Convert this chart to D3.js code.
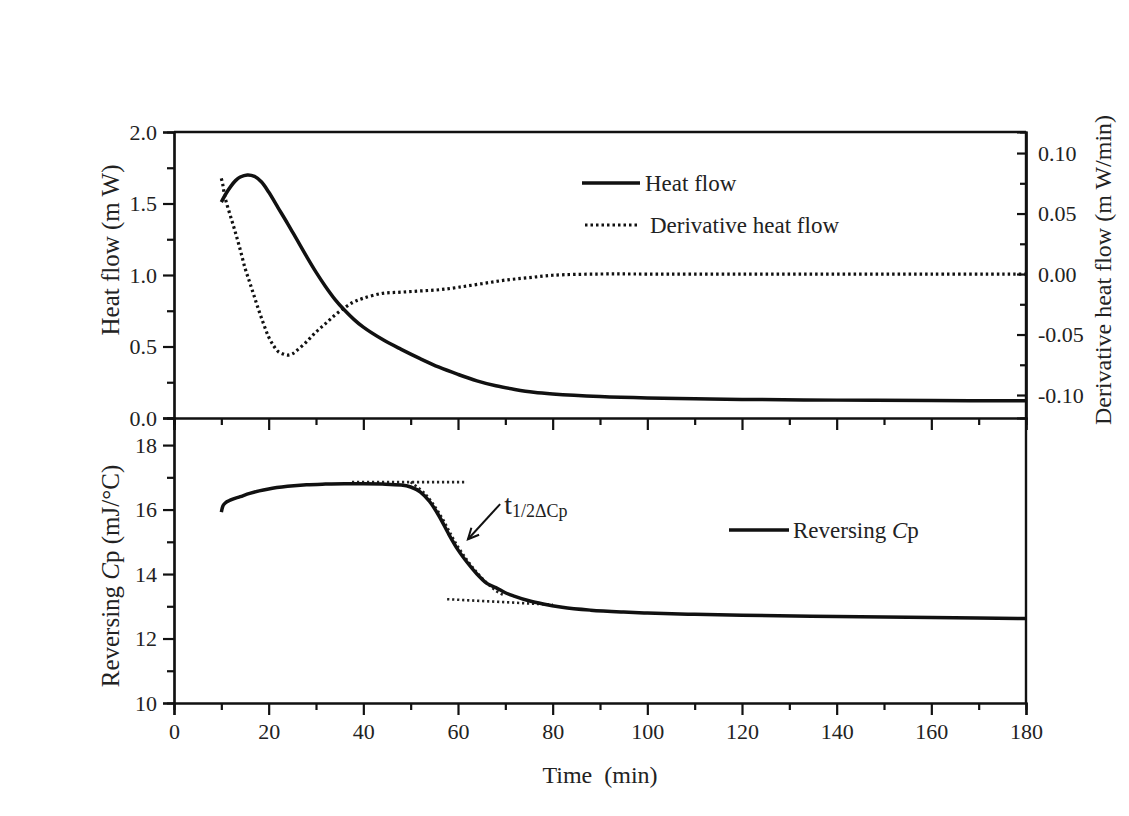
<!DOCTYPE html>
<html lang="en">
<head>
  <meta charset="UTF-8">
  <title>Heat flow and reversing Cp</title>
  <style>
    body { margin: 0; background: #fff; }
    svg { display: block; }
    text { font-family: "Liberation Serif", "DejaVu Serif", serif; fill: #222; }
    .axis path, .axis line { stroke: #111; stroke-width: 2.2px; }
    .axis text { font-size: 22px; fill: #222; }
    .frame { stroke: #111; stroke-width: 2.4px; }
    .solid { fill: none; stroke: #111; stroke-width: 3.5px; }
    .dotted { fill: none; stroke: #111; stroke-width: 3.2px; stroke-dasharray: 2.5, 3; }
    .thin-dot { fill: none; stroke: #222; stroke-width: 2.6px; stroke-dasharray: 2.2, 2.8; }
    .title { font-size: 24px; }
    .legend { font-size: 23px; }
  </style>
</head>
<body>
  <svg width="1129" height="816"></svg>

  <script src="https://d3js.org/d3.v7.min.js"></script>
  <script>
    // heat flow (mW), left axis of the top panel
    var hfTime = [10, 11, 12, 13, 14, 15.5, 17, 18.5, 20, 22, 24, 26, 28, 30, 32, 34, 36, 38, 40, 44, 48, 52, 56, 60, 64, 68, 72, 76, 80, 90, 100, 110, 120, 140, 160, 180];
    var hfValue = [1.51, 1.57, 1.62, 1.66, 1.685, 1.70, 1.69, 1.65, 1.58, 1.47, 1.36, 1.245, 1.13, 1.02, 0.92, 0.83, 0.755, 0.69, 0.635, 0.55, 0.48, 0.415, 0.355, 0.305, 0.26, 0.225, 0.20, 0.18, 0.168, 0.15, 0.14, 0.135, 0.13, 0.125, 0.122, 0.12];

    // derivative heat flow (mW/min), right axis of the top panel
    var dhfTime = [10, 10.3, 10.6, 11, 12, 13, 14, 15, 16, 17, 18, 19, 20, 21, 22, 23, 24, 25, 26, 28, 30, 32, 34, 36, 38, 40, 44, 48, 52, 56, 60, 65, 70, 75, 80, 90, 100, 120, 140, 160, 180];
    var dhfValue = [0.079, 0.074, 0.067, 0.060, 0.047, 0.034, 0.020, 0.005, -0.007, -0.019, -0.031, -0.042, -0.052, -0.059, -0.064, -0.066, -0.067, -0.066, -0.063, -0.056, -0.048, -0.041, -0.034, -0.028, -0.023, -0.020, -0.016, -0.015, -0.014, -0.013, -0.011, -0.008, -0.005, -0.003, -0.001, 0.0, 0.0, 0.0, 0.0, 0.0, 0.0];

    // reversing Cp (mJ/°C), bottom panel
    var cpTime = [10, 10.3, 10.8, 12, 14, 16, 18, 20, 24, 28, 32, 36, 40, 44, 48, 50, 52, 54, 56, 58, 60, 62, 64, 66, 68, 70, 72, 75, 78, 82, 88, 95, 100, 110, 120, 140, 160, 180];
    var cpValue = [15.92, 16.1, 16.2, 16.3, 16.4, 16.5, 16.58, 16.64, 16.72, 16.77, 16.79, 16.8, 16.8, 16.79, 16.76, 16.7, 16.55, 16.25, 15.8, 15.25, 14.75, 14.35, 14.0, 13.72, 13.58, 13.42, 13.31, 13.17, 13.07, 12.97, 12.88, 12.82, 12.79, 12.75, 12.72, 12.68, 12.65, 12.62];

    // construction lines for t1/2ΔCp
    var upperTangent = [[37.6, 16.85], [61.9, 16.85]];
    var lowerTangent = [[57.7, 13.22], [80, 13.05]];
    var slopeFit = [[50, 16.85], [53, 16.5], [56, 15.9], [60, 14.85], [64, 14.05], [68, 13.48], [70, 13.32]];
    var arrowFrom = [68.9, 16.17], arrowTo = [62.1, 15.08];

    var xMajor = d3.range(0, 181, 20), xMinor = d3.range(10, 180, 20);
    var hfMajor = [0, 0.5, 1.0, 1.5, 2.0], hfMinor = [0.25, 0.75, 1.25, 1.75];
    var dMajor = [-0.10, -0.05, 0, 0.05, 0.10], dMinor = [-0.075, -0.025, 0.025, 0.075];
    var cpMajor = [10, 12, 14, 16, 18], cpMinor = [11, 13, 15, 17];

    var svg = d3.select("svg");
    svg.append("rect").attr("width", 1129).attr("height", 816).attr("fill", "#fff");

    var plotL = 174, plotR = 1026, plotT = 132, plotM = 418, plotB = 703;

    var x = d3.scaleLinear().domain([0, 180]).range([plotL, plotR]);
    var yHf = d3.scaleLinear().domain([0, 2]).range([plotM, plotT]);
    var yD = d3.scaleLinear().domain([-0.119, 0.1174]).range([plotM, plotT]);
    var yCp = d3.scaleLinear().domain([10, 18.84]).range([plotB, plotM]);

    var minus = function(f) { return function(d) { return f(d).replace("\u2212", "-"); }; };

    // frame
    svg.append("line").attr("class", "frame").attr("x1", plotL).attr("x2", plotR).attr("y1", plotT).attr("y2", plotT);
    svg.append("line").attr("class", "frame").attr("x1", plotR).attr("x2", plotR).attr("y1", plotT).attr("y2", plotB);

    function axis(gen, tx, ty) {
      return svg.append("g").attr("class", "axis").attr("transform", "translate(" + tx + "," + ty + ")").call(gen);
    }

    // top panel left axis
    axis(d3.axisLeft(yHf).tickValues(hfMajor).tickSize(11).tickPadding(6).tickFormat(d3.format(".1f")), plotL, 0);
    axis(d3.axisLeft(yHf).tickValues(hfMinor).tickSize(7).tickFormat(""), plotL, 0);
    // right axis, ticks pointing in
    axis(d3.axisRight(yD).tickValues(dMajor).tickSize(-9).tickPadding(12).tickFormat(minus(d3.format(".2f"))), plotR, 0);
    axis(d3.axisRight(yD).tickValues(dMinor).tickSize(-6).tickFormat(""), plotR, 0);
    // top panel bottom axis (no labels)
    axis(d3.axisBottom(x).tickValues(xMajor).tickSize(12).tickFormat(""), 0, plotM);
    axis(d3.axisBottom(x).tickValues(xMinor).tickSize(7).tickFormat(""), 0, plotM);

    // bottom panel
    axis(d3.axisLeft(yCp).tickValues(cpMajor).tickSize(11).tickPadding(6), plotL, 0);
    axis(d3.axisLeft(yCp).tickValues(cpMinor).tickSize(7).tickFormat(""), plotL, 0);
    axis(d3.axisBottom(x).tickValues(xMajor).tickSize(12).tickPadding(8), 0, plotB);
    axis(d3.axisBottom(x).tickValues(xMinor).tickSize(7).tickFormat(""), 0, plotB);

    svg.selectAll(".axis .domain").attr("stroke-width", 2.4);

    // curves
    var hfLine = d3.line().x(function(d) { return x(d[0]); }).y(function(d) { return yHf(d[1]); }).curve(d3.curveCatmullRom);
    var dLine = d3.line().x(function(d) { return x(d[0]); }).y(function(d) { return yD(d[1]); }).curve(d3.curveCatmullRom);
    var cpLine = d3.line().x(function(d) { return x(d[0]); }).y(function(d) { return yCp(d[1]); }).curve(d3.curveMonotoneX);
    var cpCurve = d3.line().x(function(d) { return x(d[0]); }).y(function(d) { return yCp(d[1]); }).curve(d3.curveCatmullRom);

    svg.append("path").attr("class", "dotted").attr("d", dLine(d3.zip(dhfTime, dhfValue)));
    svg.append("path").attr("class", "solid").attr("d", hfLine(d3.zip(hfTime, hfValue)));

    svg.append("path").attr("class", "thin-dot").attr("d", cpLine(upperTangent));
    svg.append("path").attr("class", "thin-dot").attr("d", cpLine(lowerTangent));
    svg.append("path").attr("class", "thin-dot").attr("d", cpCurve(slopeFit));
    svg.append("path").attr("class", "solid").attr("d", cpLine(d3.zip(cpTime, cpValue)));

    // arrow + label
    var ax1 = x(arrowFrom[0]), ay1 = yCp(arrowFrom[1]), ax2 = x(arrowTo[0]), ay2 = yCp(arrowTo[1]);
    svg.append("line").attr("x1", ax1).attr("y1", ay1).attr("x2", ax2).attr("y2", ay2)
      .attr("stroke", "#111").attr("stroke-width", 2);
    var ang = Math.atan2(ay2 - ay1, ax2 - ax1), hl = 12;
    svg.append("path")
      .attr("d", "M" + (ax2 - hl * Math.cos(ang - 0.45)) + "," + (ay2 - hl * Math.sin(ang - 0.45)) +
                 "L" + ax2 + "," + ay2 +
                 "L" + (ax2 - hl * Math.cos(ang + 0.45)) + "," + (ay2 - hl * Math.sin(ang + 0.45)))
      .attr("fill", "none").attr("stroke", "#111").attr("stroke-width", 2);
    var lbl = svg.append("text").attr("x", ax1 + 4).attr("y", ay1 + 10).style("font-size", "28px");
    lbl.append("tspan").text("t");
    lbl.append("tspan").attr("dy", 3).style("font-size", "18px").text("1/2\u0394Cp");

    // legends
    var lg = svg.append("g");
    lg.append("line").attr("x1", 582).attr("x2", 640).attr("y1", 183).attr("y2", 183).attr("class", "solid");
    lg.append("text").attr("class", "legend").attr("x", 645).attr("y", 191).text("Heat flow");
    lg.append("line").attr("x1", 585).attr("x2", 638).attr("y1", 225).attr("y2", 225).attr("class", "dotted");
    lg.append("text").attr("class", "legend").attr("x", 650).attr("y", 233).text("Derivative heat flow");

    lg.append("line").attr("x1", 729).attr("x2", 789).attr("y1", 530).attr("y2", 530).attr("class", "solid");
    var cpl = lg.append("text").attr("class", "legend").attr("x", 793).attr("y", 538);
    cpl.append("tspan").text("Reversing ");
    cpl.append("tspan").style("font-style", "italic").text("C");
    cpl.append("tspan").text("p");

    // axis titles
    svg.append("text").attr("class", "title").attr("transform", "translate(119,250) rotate(-90)")
      .attr("text-anchor", "middle").style("font-size", "25px").text("Heat flow (m W)");
    var cpt = svg.append("text").attr("class", "title").attr("transform", "translate(119,576) rotate(-90)")
      .attr("text-anchor", "middle").style("font-size", "25px");
    cpt.append("tspan").text("Reversing ");
    cpt.append("tspan").style("font-style", "italic").text("C");
    cpt.append("tspan").text("p (mJ/\u00B0C)");
    svg.append("text").attr("class", "title").attr("transform", "translate(1111,270) rotate(-90)")
      .attr("text-anchor", "middle").text("Derivative heat flow (m W/min)");
    svg.append("text").attr("class", "title").attr("x", 600).attr("y", 783)
      .attr("text-anchor", "middle").style("white-space", "pre").text("Time  (min)");
  </script>
</body>
</html>
